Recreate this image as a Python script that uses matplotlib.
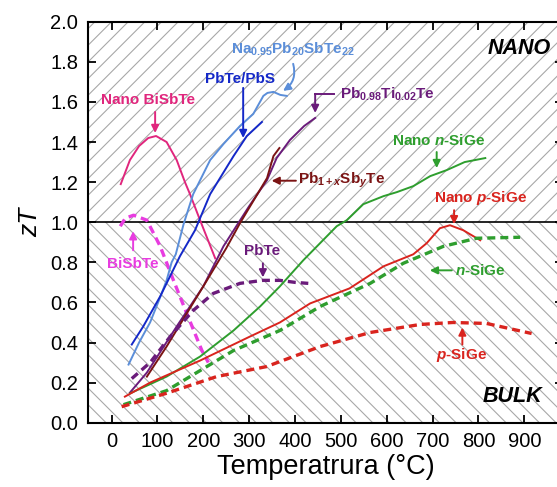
import matplotlib
matplotlib.use("Agg")
import matplotlib.pyplot as plt
import numpy as np

plt.rcParams['font.family'] = ['Liberation Sans', 'DejaVu Sans']
plt.rcParams['mathtext.fontset'] = 'custom'
plt.rcParams['mathtext.rm'] = 'Liberation Sans:bold'
plt.rcParams['mathtext.it'] = 'Liberation Sans:italic:bold'
plt.rcParams['mathtext.bf'] = 'Liberation Sans:bold'
plt.rcParams['hatch.linewidth'] = 0.8

# --- data (T in °C, zT) ---
nano_bisbte_t = [20, 40, 60, 80, 97, 120, 142, 160, 171, 193, 226]
nano_bisbte_zt = [1.19, 1.31, 1.38, 1.42, 1.43, 1.40, 1.31, 1.20, 1.14, 1.01, 0.82]

bisbte_t = [19, 30, 48, 77, 106, 135, 164, 197, 211]
bisbte_zt = [0.98, 1.02, 1.035, 1.01, 0.88, 0.71, 0.545, 0.36, 0.30]

napbsbte_t = [37, 60, 84, 105, 120, 131, 140, 157, 178, 215, 244, 280, 309, 331, 340, 353, 368, 382]
napbsbte_zt = [0.29, 0.40, 0.50, 0.62, 0.71, 0.80, 0.84, 0.99, 1.14, 1.31, 1.39, 1.48, 1.54, 1.63, 1.645, 1.65, 1.635, 1.63]

pbte_pbs_t = [44, 69, 106, 149, 182, 215, 266, 295, 328]
pbte_pbs_zt = [0.39, 0.48, 0.63, 0.83, 0.96, 1.14, 1.33, 1.43, 1.50]

pbti_t = [40, 77, 142, 200, 244, 300, 339, 360, 389, 420, 444]
pbti_zt = [0.15, 0.25, 0.48, 0.68, 0.88, 1.08, 1.21, 1.32, 1.41, 1.48, 1.52]

pbsb_t = [77, 120, 160, 208, 250, 280, 339, 353, 366]
pbsb_zt = [0.23, 0.38, 0.53, 0.71, 0.87, 0.995, 1.22, 1.33, 1.37]

pbte_t = [44, 84, 128, 178, 222, 280, 330, 367, 400, 429]
pbte_zt = [0.22, 0.30, 0.43, 0.56, 0.645, 0.695, 0.71, 0.71, 0.70, 0.695]

nano_nsige_t = [40, 120, 193, 266, 324, 367, 418, 491, 513, 549, 593, 622, 658, 695, 731, 770, 815]
nano_nsige_zt = [0.146, 0.23, 0.33, 0.46, 0.58, 0.68, 0.81, 0.98, 1.01, 1.09, 1.13, 1.15, 1.18, 1.23, 1.26, 1.30, 1.32]

nano_psige_t = [29, 84, 193, 302, 367, 433, 519, 593, 658, 687, 716, 738, 767, 804]
nano_psige_zt = [0.13, 0.20, 0.31, 0.43, 0.50, 0.595, 0.67, 0.78, 0.84, 0.895, 0.97, 0.985, 0.96, 0.91]

nsige_t = [26, 120, 193, 266, 367, 455, 564, 636, 724, 796, 891]
nsige_zt = [0.09, 0.16, 0.26, 0.36, 0.46, 0.58, 0.695, 0.795, 0.88, 0.92, 0.925]

psige_t = [22, 120, 229, 338, 455, 564, 673, 745, 818, 916]
psige_zt = [0.08, 0.147, 0.23, 0.28, 0.38, 0.45, 0.49, 0.50, 0.495, 0.445]

x_ticks = list(range(0, 1000, 100))
y_ticks = [0.0, 0.2, 0.4, 0.6, 0.8, 1.0, 1.2, 1.4, 1.6, 1.8, 2.0]

c_nbst = '#E0267D'
c_bst = '#E83CE0'
c_na = '#5B8ED9'
c_pbs = '#1428C8'
c_pur = '#6A1B7A'
c_brn = '#7B1414'
c_grn = '#2E9E2E'
c_red = '#D9241E'

fig = plt.figure(figsize=(5.57, 4.87), dpi=100)
ax = fig.add_axes([0.1575, 0.132, 0.8537, 0.8234])

ax.axhspan(1.0, 2.0, hatch='//', fill=False, edgecolor='#A8A8A8', lw=0, zorder=0)
ax.axhspan(0.0, 1.0, hatch='\\\\', fill=False, edgecolor='#A8A8A8', lw=0, zorder=0)
ax.axhline(1.0, color='black', lw=1.2, zorder=1)

lw = 1.4
dash = (0, (2.4, 1.5))
ax.plot(nano_bisbte_t, nano_bisbte_zt, color=c_nbst, lw=lw)
ax.plot(bisbte_t, bisbte_zt, color=c_bst, lw=2.4, linestyle=dash)
ax.plot(napbsbte_t, napbsbte_zt, color=c_na, lw=lw)
ax.plot(pbte_pbs_t, pbte_pbs_zt, color=c_pbs, lw=lw)
ax.plot(pbti_t, pbti_zt, color=c_pur, lw=lw)
ax.plot(pbsb_t, pbsb_zt, color=c_brn, lw=lw)
ax.plot(pbte_t, pbte_zt, color=c_pur, lw=2.4, linestyle=dash)
ax.plot(nano_nsige_t, nano_nsige_zt, color=c_grn, lw=lw)
ax.plot(nano_psige_t, nano_psige_zt, color=c_red, lw=lw)
ax.plot(nsige_t, nsige_zt, color=c_grn, lw=2.4, linestyle=dash)
ax.plot(psige_t, psige_zt, color=c_red, lw=2.4, linestyle=dash)

fs = 11
def label(x, y, s, c, ha='center'):
    ax.text(x, y, s, color=c, fontsize=fs, fontweight='bold', ha=ha, va='center')

def arrow(x0, y0, x1, y1, c, rad=0.0):
    ax.annotate('', xy=(x1, y1), xytext=(x0, y0),
                arrowprops=dict(arrowstyle='-|>', color=c, lw=1.4, mutation_scale=11,
                                shrinkA=0, shrinkB=0,
                                connectionstyle='arc3,rad=%s' % rad))

label(80, 1.61, 'Nano BiSbTe', c_nbst)
arrow(95, 1.55, 95, 1.445, c_nbst)

label(47, 0.79, 'BiSbTe', c_bst)
arrow(47, 0.86, 47, 0.955, c_bst)

label(396, 1.86, r'Na$_{0.95}$Pb$_{20}$SbTe$_{22}$', c_na)
arrow(396, 1.79, 374, 1.655, c_na, rad=-0.35)

label(279, 1.714, 'PbTe/PbS', c_pbs)
arrow(287, 1.67, 287, 1.42, c_pbs)

label(498, 1.64, r'Pb$_{0.98}$Ti$_{0.02}$Te', c_pur, ha='left')
ax.plot([484, 444], [1.64, 1.64], color=c_pur, lw=1.4)
arrow(444, 1.64, 444, 1.545, c_pur)

label(407, 1.207, r'Pb$_{1+x}$Sb$_{y}$Te', c_brn, ha='left')
arrow(402, 1.207, 349, 1.207, c_brn)

label(713, 1.41, r'Nano $n$-SiGe', c_grn)
arrow(709, 1.35, 709, 1.27, c_grn)

label(804, 1.12, r'Nano $p$-SiGe', c_red)
arrow(747, 1.06, 747, 0.99, c_red)

label(749, 0.76, r'$n$-SiGe', c_grn, ha='left')
arrow(742, 0.76, 694, 0.76, c_grn)

label(329, 0.858, 'PbTe', c_pur)
arrow(330, 0.795, 330, 0.725, c_pur)

label(764, 0.338, r'$p$-SiGe', c_red)
arrow(765, 0.39, 765, 0.475, c_red)

ax.text(958, 1.867, 'NANO', fontsize=15.5, fontweight='bold', style='italic',
        ha='right', va='center')
ax.text(940, 0.13, 'BULK', fontsize=15.5, fontweight='bold', style='italic',
        ha='right', va='center')

ax.set_xlim(-52, 985)
ax.set_ylim(0, 2.0)
ax.set_xticks(x_ticks)
ax.set_yticks(y_ticks)
ax.set_yticklabels(['%.1f' % v for v in y_ticks])
ax.tick_params(direction='in', length=6, width=1.3, labelsize=14.5,
               top=True, right=True, pad=7)
for sp in ax.spines.values():
    sp.set_linewidth(1.5)

ax.set_xlabel('Temperatrura (°C)', fontsize=19.5, labelpad=2)
ax.set_ylabel('zT', fontsize=19, style='italic', labelpad=6)

fig.savefig('out.png', dpi=100)
